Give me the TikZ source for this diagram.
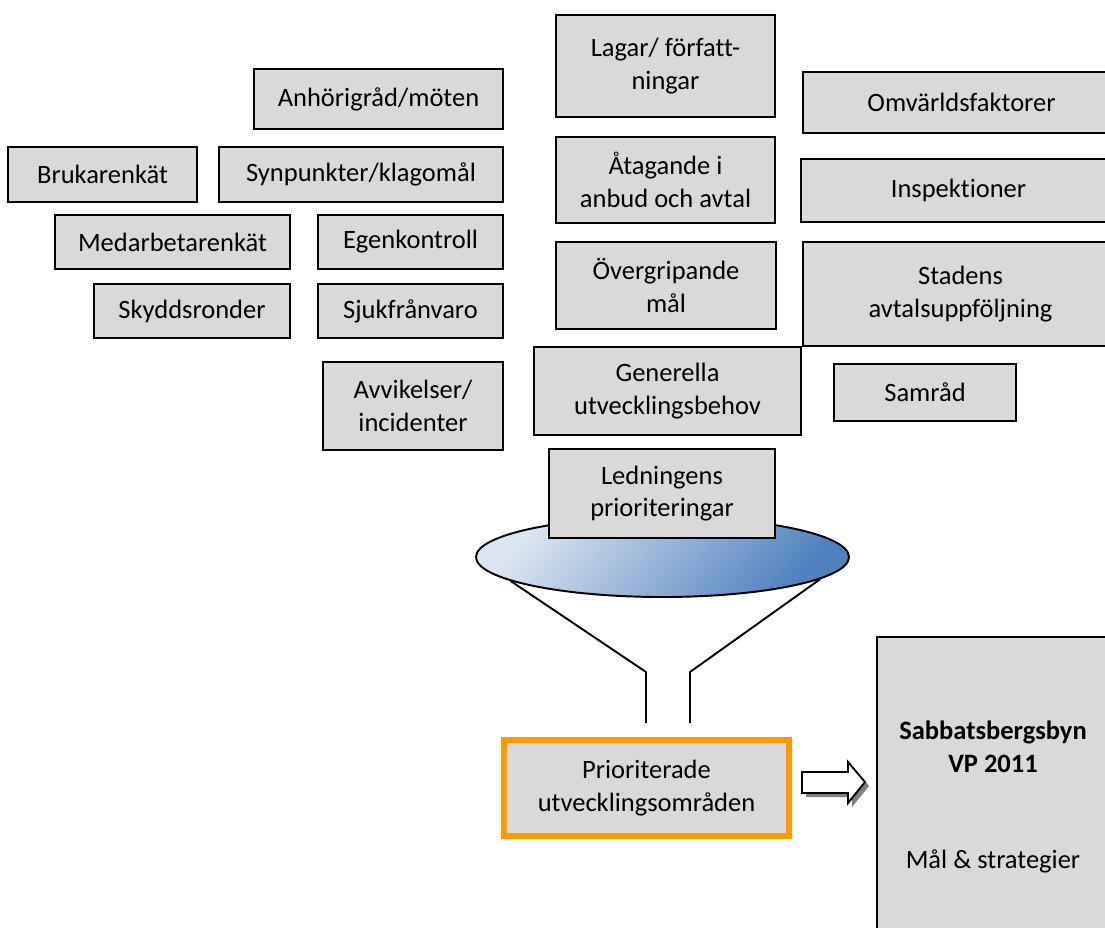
\documentclass[tikz,border=0pt]{standalone}
\usepackage{fontspec}
\setmainfont{Carlito}[Ligatures={NoCommon}]
\usepackage{tikz}
\usetikzlibrary{shapes.geometric}
\definecolor{rutgra}{HTML}{D9D9D9}
\definecolor{prioorange}{HTML}{FF9900}
\definecolor{ljusbla}{HTML}{DCE6F2}
\definecolor{morkbla}{HTML}{4F81BD}
\definecolor{skugga}{HTML}{808080}
\newcommand{\enh}{0.415pt}
\tikzset{
	ruta/.style 2 args={draw, fill=rutgra, line width=0.8pt, minimum width=#1*\enh, minimum height=#2*\enh, inner sep=0pt, align=center, font=\fontsize{11}{13.5}\selectfont},
	linje/.style={line width=0.8pt}
}
\begin{document}
\begin{tikzpicture}[x=\enh, y=-\enh]
		\useasboundingbox (0,0) rectangle (1105,927);
		\clip (0,0) rectangle (1105,927);
		\node[ruta={249}{60}] (anhorig) at (378.5,99) {Anhörigråd/möten};
		\node[ruta={189}{55}] (brukar) at (102.5,174.5) {Brukarenkät};
		\node[ruta={284}{55}] (synpunkt) at (361,174.5) {Synpunkter/klagomål};
		\node[ruta={235}{54}] (medarb) at (172.5,242) {Medarbetarenkät};
		\node[ruta={185}{54}] (egenkontroll) at (410.5,242) {Egenkontroll};
		\node[ruta={196}{54}] (skydd) at (192,311) {Skyddsronder};
		\node[ruta={185}{54}] (sjuk) at (410.5,311) {Sjukfrånvaro};
		\node[ruta={180}{88}] (avvik) at (413,406) {Avvikelser/\\incidenter};
		\node[ruta={219}{102}] (lagar) at (665.5,66) {Lagar/ författ-\\ningar};
		\node[ruta={219}{86}] (atagande) at (665.5,180) {Åtagande i\\anbud och avtal};
		\node[ruta={220}{87}] (overgr) at (666,285.5) {Övergripande\\mål};
		\node[ruta={267}{88}] (generella) at (667.5,391) {Generella\\utvecklingsbehov};
		\node[ruta={317}{61}] (omvarld) at (961.5,102.5) {Omvärldsfaktorer};
		\node[ruta={315}{63}] (inspektion) at (958.5,190.5) {Inspektioner};
		\node[ruta={315}{104}] (stadens) at (960.5,294) {Stadens\\avtalsuppföljning};
		\node[ruta={182}{57}] (samrad) at (925,392.5) {Samråd};
		\coordinate (halsV) at (646,672);
		\coordinate (halsH) at (690,672);
		\coordinate (halsVned) at (646,723);
		\coordinate (halsHned) at (690,723);
		\node[ellipse, draw, linje, top color=ljusbla, bottom color=morkbla, shading angle=50, minimum width=373*\enh, minimum height=80*\enh, inner sep=0pt] (tratt) at (662.5,557) {};
		\draw[linje] (tratt.189.4)--(halsV)--(halsVned);
		\draw[linje] (tratt.-8.5)--(halsH)--(halsHned);
		\node[ruta={226}{89}] (ledning) at (662,493.5) {Ledningens\\prioriteringar};
		\node[ruta={285}{96}, draw=prioorange, line width=2.5pt] (prio) at (646.5,788) {Prioriterade\\utvecklingsområden};
		\node[ruta={232}{320}] (vp) at (993,797) {\textbf{Sabbatsbergsbyn}\\\textbf{VP 2011}\\[26.5pt]Mål \& strategier};
		\fill[skugga] (806,776)--(852,776)--(852,766)--(869,786)--(852,807)--(852,797)--(806,797)--cycle;
		\draw[linje, fill=white] (802,772)--(848,772)--(848,762)--(865,782)--(848,803)--(848,793)--(802,793)--cycle;
	\end{tikzpicture}
\end{document}
